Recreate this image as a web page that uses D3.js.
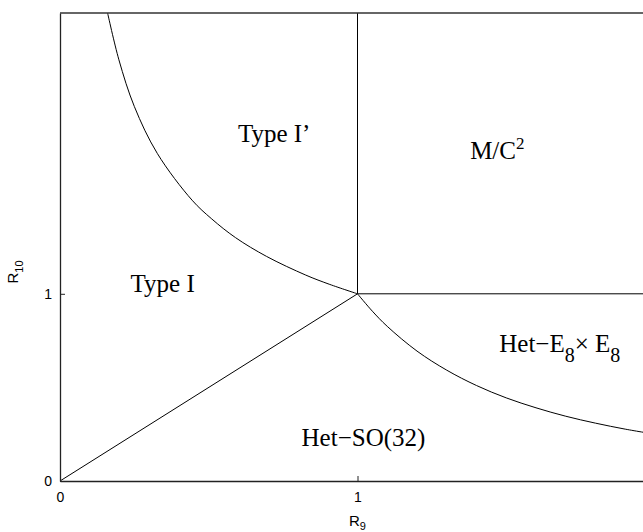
<!DOCTYPE html>
<html>
<head>
<meta charset="utf-8">
<script src="https://cdn.jsdelivr.net/npm/d3@7"></script>
<style>
  body { margin: 0; background: #fff; }
  svg { display: block; }
  .tick text { font-family: "Liberation Sans", Arial, sans-serif; font-size: 14px; fill: #000; }
  .region { font-family: "Liberation Serif", "Times New Roman", serif; font-size: 25px; fill: #000; }
</style>
</head>
<body>
<script>
// boundary between Type I and Type I'
var leftCurve = [
  [0.160, 2.50], [0.198, 2.25], [0.250, 2.00], [0.327, 1.75], [0.444, 1.50],
  [0.510, 1.40], [0.590, 1.30], [0.694, 1.20], [0.826, 1.10], [0.907, 1.05], [1.00, 1.00]
];
// boundary between Het-SO(32) and Het-E8xE8
var rightCurve = [
  [1.00, 1.00], [1.05, 0.907], [1.10, 0.826], [1.20, 0.694], [1.30, 0.592], [1.40, 0.510],
  [1.50, 0.444], [1.60, 0.391], [1.70, 0.346], [1.80, 0.309], [1.90, 0.277], [2.00, 0.250]
];
var diagLine = [[0, 0], [1, 1]];
var vertLine = [[1, 1], [1, 2.5]];
var horizLine = [[1, 1], [2, 1]];

var xTicks = [0, 1];
var yTicks = [0, 1];

var regions = [
  { name: "Type I\u2019", x: 0.72, y: 1.81 },
  { name: "Type I", x: 0.345, y: 1.01 },
  { name: "M/C", sup: "2", x: 1.47, y: 1.72 },
  { name: "Het\u2212E", sub1: "8", mid: "\u00d7 E", sub2: "8", x: 1.68, y: 0.69 },
  { name: "Het\u2212SO(32)", x: 1.02, y: 0.185 }
];

var width = 643, height = 532;
var margin = { left: 60, top: 13, right: -12, bottom: 51 };

var svg = d3.select("body").append("svg")
  .attr("width", width).attr("height", height);

var x = d3.scaleLinear().domain([0, 2]).range([margin.left, width - margin.right]);
var y = d3.scaleLinear().domain([0, 2.5]).range([height - margin.bottom, margin.top]);

var line = d3.line().x(d => x(d[0])).y(d => y(d[1]));

svg.append("defs").append("clipPath").attr("id", "clip")
  .append("rect")
  .attr("x", x(0)).attr("y", y(2.5))
  .attr("width", x(2) - x(0)).attr("height", y(0) - y(2.5));

var plot = svg.append("g").attr("clip-path", "url(#clip)");

plot.append("path").datum(leftCurve)
  .attr("d", line.curve(d3.curveCatmullRom))
  .attr("fill", "none").attr("stroke", "#000").attr("stroke-width", 1);
plot.append("path").datum(rightCurve)
  .attr("d", line.curve(d3.curveCatmullRom))
  .attr("fill", "none").attr("stroke", "#000").attr("stroke-width", 1);

line.curve(d3.curveLinear);
[diagLine, vertLine, horizLine].forEach(function (d) {
  plot.append("path").datum(d)
    .attr("d", line)
    .attr("fill", "none").attr("stroke", "#000").attr("stroke-width", 1);
});

// axes (MATLAB style: inward ticks, box)
var xAxis = svg.append("g")
  .attr("transform", "translate(0," + y(0) + ")")
  .call(d3.axisBottom(x).tickValues(xTicks).tickFormat(d3.format("d"))
    .tickSizeInner(-5).tickSizeOuter(0).tickPadding(11));
var yAxis = svg.append("g")
  .attr("transform", "translate(" + x(0) + ",0)")
  .call(d3.axisLeft(y).tickValues(yTicks).tickFormat(d3.format("d"))
    .tickSizeInner(-5).tickSizeOuter(0).tickPadding(8));
[xAxis, yAxis].forEach(function (g) {
  g.select(".domain").attr("stroke", "#222").attr("stroke-width", 1.3);
  g.selectAll(".tick line").attr("stroke", "#222");
});

// top border
svg.append("line")
  .attr("x1", x(0)).attr("x2", x(2))
  .attr("y1", y(2.5)).attr("y2", y(2.5))
  .attr("stroke", "#333").attr("stroke-width", 1.6);

// axis labels
var xl = svg.append("text")
  .attr("x", x(1)).attr("y", 526)
  .attr("text-anchor", "middle")
  .style("font-family", "Liberation Sans, Arial, sans-serif").style("font-size", "15px");
xl.append("tspan").text("R");
xl.append("tspan").attr("dy", 4).style("font-size", "11px").text("9");

var yl = svg.append("text")
  .attr("transform", "translate(18," + 272 + ") rotate(-90)")
  .attr("text-anchor", "middle")
  .style("font-family", "Liberation Sans, Arial, sans-serif").style("font-size", "15px");
yl.append("tspan").text("R");
yl.append("tspan").attr("dy", 5).style("font-size", "11px").text("10");

// region labels
regions.forEach(function (r) {
  var t = svg.append("text").attr("class", "region")
    .attr("x", x(r.x)).attr("y", y(r.y))
    .attr("text-anchor", "middle");
  t.append("tspan").text(r.name);
  if (r.sup) {
    t.append("tspan").attr("dy", -10).style("font-size", "17px").text(r.sup);
  }
  if (r.sub1) {
    t.append("tspan").attr("dy", 10).style("font-size", "20px").text(r.sub1);
    t.append("tspan").attr("dy", -10).text(r.mid);
    t.append("tspan").attr("dy", 10).style("font-size", "20px").text(r.sub2);
  }
});
</script>
</body>
</html>
